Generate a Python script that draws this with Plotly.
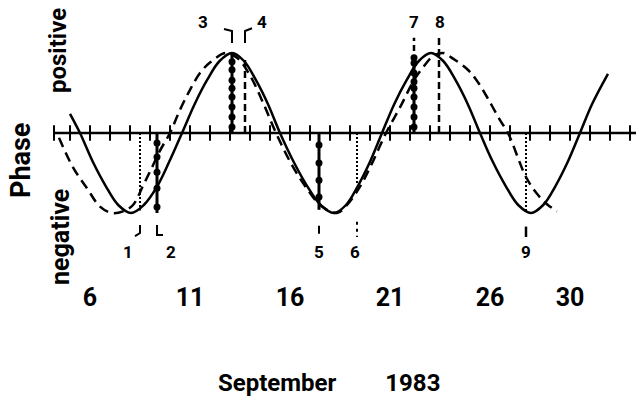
import plotly.graph_objects as go

# ---------------- data ----------------
# solid phase curve (day of September 1983, relative phase)
solid_days = [5.0, 5.5, 6.14, 6.78, 7.41, 8.05, 8.69, 9.33, 9.96, 10.6,
              11.23, 11.85, 12.48, 13.1, 13.7, 14.3, 14.9, 15.5,
              16.18, 16.85, 17.53, 18.2, 18.8, 19.4, 20.0, 20.6,
              21.21, 21.83, 22.44, 23.05, 23.66, 24.28, 24.89, 25.5,
              26.14, 26.78, 27.41, 28.05, 28.66, 29.28, 29.89, 30.5,
              31.1, 31.9]
solid_phase = [0.24, 0.0, -0.36, -0.66, -0.9, -1.0, -0.9, -0.68, -0.36, 0.0,
               0.36, 0.66, 0.9, 1.0, 0.9, 0.66, 0.36, 0.0,
               -0.36, -0.66, -0.9, -1.0, -0.9, -0.66, -0.36, 0.0,
               0.36, 0.66, 0.9, 1.0, 0.9, 0.66, 0.36, 0.0,
               -0.36, -0.66, -0.9, -1.0, -0.9, -0.66, -0.36, 0.0,
               0.36, 0.74]

# dashed phase curve
dash_days = [4.45, 5.15, 5.85, 6.5, 7.1, 7.65, 8.15, 8.65, 9.1, 9.5, 10.0,
             10.5, 11.0, 11.5, 12.0, 12.8, 13.4, 14.0, 14.65, 15.3,
             16.05, 16.8, 17.55, 18.35, 18.85, 19.5, 20.1, 20.8,
             21.5, 22.2, 22.65, 23.15, 23.65, 24.15, 24.85, 25.3, 25.85,
             26.5, 26.9, 27.8, 28.35, 28.85, 29.35]
dash_phase = [-0.06, -0.43, -0.69, -0.92, -1.0, -0.98, -0.9, -0.66, -0.43, -0.22, 0.0,
              0.29, 0.54, 0.75, 0.88, 1.0, 0.93, 0.72, 0.38, 0.0,
              -0.38, -0.68, -0.91, -1.0, -0.9, -0.67, -0.38, 0.0,
              0.32, 0.66, 0.82, 0.96, 1.0, 0.93, 0.8, 0.67, 0.45,
              0.16, 0.0, -0.55, -0.76, -0.89, -0.98]

# numbered events
event_labels = ["1", "2", "3", "4", "5", "6", "7", "8", "9"]
event_days = [8.5, 9.35, 13.1, 13.75, 17.45, 19.35, 22.2, 23.45, 27.8]
event_kind = ["dotted", "beads", "beads", "dashed", "beads", "dotted", "beads", "dashed", "dotted"]
event_end = [-0.97, -1.0, 1.0, 0.95, -0.96, -0.63, 0.9, 1.19, -0.99]

# observation dots on the bead lines (phase values)
beads = {
    "2": [-0.125, -0.3, -0.49, -0.69, -0.925],
    "3": [0.89, 0.79, 0.66, 0.56, 0.45, 0.325, 0.2, 0.075],
    "5": [-0.15, -0.375, -0.59, -0.8],
    "7": [0.94, 0.875, 0.75, 0.64, 0.56, 0.45, 0.325, 0.2, 0.075],
}

tick_days = [6, 11, 16, 21, 26, 30]
tick_text = ["6", "11", "16", "21", "26", "30"]
axis_start, axis_end = 4.2, 33.3
minor_ticks = [axis_start] + list(range(5, 34))

# ---------------- style / layout helpers ----------------
FONT = "Roboto, Liberation Sans, sans-serif"
W, H = 636, 404
BOTTOM = 124
PLOT_H = H - BOTTOM
XR = [1.5, 33.3]
YR = [-1.8375, 1.6625]
LW = 2.5

fig = go.Figure()

# phase axis (zero line) with day ticks
fig.add_trace(go.Scatter(x=[axis_start, axis_end], y=[0, 0], mode="lines",
                         line=dict(color="black", width=2.5), hoverinfo="skip"))
fig.add_trace(go.Scatter(x=minor_ticks, y=[0] * len(minor_ticks), mode="markers",
                         marker=dict(symbol="line-ns-open", size=11, color="black",
                                     line=dict(color="black", width=2)),
                         hoverinfo="skip"))

# curves
fig.add_trace(go.Scatter(x=solid_days, y=solid_phase, mode="lines",
                         line=dict(color="black", width=LW, shape="spline")))
fig.add_trace(go.Scatter(x=dash_days, y=dash_phase, mode="lines",
                         line=dict(color="black", width=LW, shape="spline", dash="10px,6px")))

# event lines
label_dx = [-0.6, 0.7, -1.45, 0.85, 0.0, -0.1, 0.0, 0.05, 0.0]
for lab, d, kind, end, dx in zip(event_labels, event_days, event_kind, event_end, label_dx):
    if kind == "dotted":
        line = dict(color="black", width=2, dash="2px,2px")
    elif kind == "dashed":
        line = dict(color="black", width=2.5, dash="7px,4px")
    else:
        line = dict(color="black", width=3)
    fig.add_trace(go.Scatter(x=[d, d], y=[0, end], mode="lines", line=line, hoverinfo="skip"))
    if lab in beads:
        fig.add_trace(go.Scatter(x=[d] * len(beads[lab]), y=beads[lab], mode="markers",
                                 marker=dict(color="black", size=7), hoverinfo="skip"))
    top = end > 0
    ly = 1.39 if top else -1.49
    fig.add_annotation(x=d + dx, y=ly, xref="x", yref="y", text=lab, showarrow=False,
                       xanchor="center", yanchor="middle",
                       font=dict(family=FONT, size=17, color="black", weight="bold"))

# extension of event 7 above the curve
fig.add_trace(go.Scatter(x=[event_days[6]] * 2, y=[event_end[6], 1.19], mode="lines",
                         line=dict(color="black", width=2.5, dash="6px,4px"), hoverinfo="skip"))

# small pointer marks beside the labels
def seg(xs, ys, dash=None, width=2):
    fig.add_trace(go.Scatter(x=xs, y=ys, mode="lines",
                             line=dict(color="black", width=width, dash=dash, shape="linear"),
                             hoverinfo="skip"))

d1, d2, d3, d4, d5, d6, d7, d8, d9 = event_days
seg([d1, d1, d1 - 0.25], [-1.15, -1.25, -1.29])
seg([d2, d2, d2 + 0.3], [-1.15, -1.275, -1.275])
seg([d3 - 0.4, d3, d3], [1.30, 1.275, 1.125])
seg([d4, d4, d4 + 0.35], [1.125, 1.275, 1.31])
seg([d5, d5], [-1.16, -1.26])
seg([d6, d6], [-1.11, -1.30], dash="3px,4px")
seg([d9, d9], [-1.17, -1.30], width=2.5)

# text
def txt(px, py, s, size, angle=0):
    fig.add_annotation(x=px / W, y=(PLOT_H - py) / PLOT_H, xref="paper", yref="paper",
                       text=s, textangle=angle, showarrow=False,
                       xanchor="center", yanchor="middle",
                       font=dict(family=FONT, size=size, color="black", weight="bold"))

txt(21, 161, "Phase", 27, -90)
txt(58, 50, "positive", 24, -90)
txt(60, 237, "negative", 25, -90)
txt(329, 383, "September\u2003\u20031983", 24)

fig.update_layout(
    width=W, height=H,
    margin=dict(l=0, r=0, t=0, b=BOTTOM),
    paper_bgcolor="white", plot_bgcolor="white",
    showlegend=False,
    xaxis=dict(range=XR, tickvals=tick_days, ticktext=tick_text, showgrid=False,
               zeroline=False, showline=False, ticks="", fixedrange=True,
               tickfont=dict(family=FONT, size=25, color="black", weight="bold")),
    yaxis=dict(range=YR, visible=False, fixedrange=True),
)

fig.write_html("out.html")
